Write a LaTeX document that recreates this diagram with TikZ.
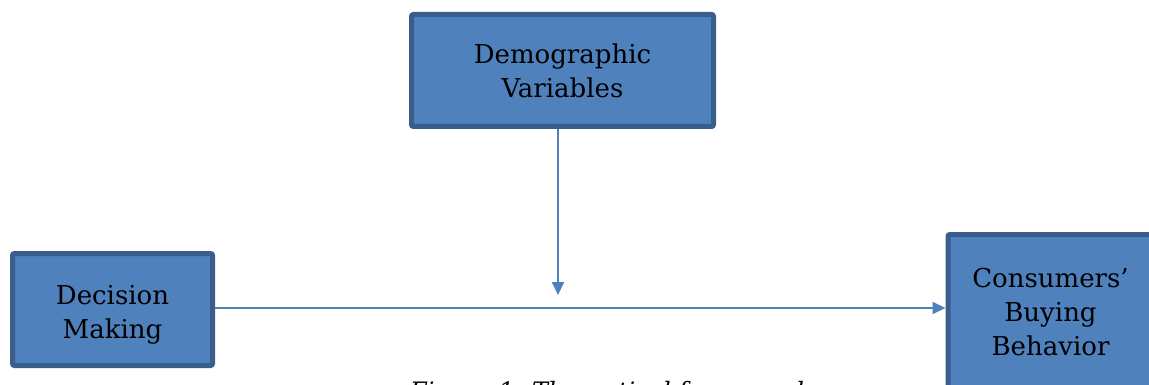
\documentclass[tikz,border=0pt]{standalone}
\usepackage{fontspec}
\setmainfont{DejaVu Serif}
\usetikzlibrary{arrows.meta}
\definecolor{boxfill}{HTML}{4F81BD}
\definecolor{boxline}{HTML}{3A5E8C}
\definecolor{arrowcol}{HTML}{4F81BD}
\tikzset{
  box/.style={draw=boxline, fill=boxfill, line width=5pt, rounded corners=2pt,
    align=center, inner sep=0pt, text=black,
    font=\fontsize{26pt}{34pt}\selectfont},
  conn/.style={draw=arrowcol, line width=2pt,
    -{Triangle[length=13pt,width=12pt]}},
  caption/.style={font=\fontsize{24pt}{28pt}\selectfont\itshape, inner sep=0pt}
}
\begin{document}
\begin{tikzpicture}[x=1pt,y=-1pt]
\useasboundingbox (0,0) rectangle (1149,385);
\clip (0,0) rectangle (1149,385);
\fill[white] (0,0) rectangle (1149,385);
\node[box, minimum width=302pt, minimum height=112pt] (demo) at (562.5,70.5) {Demographic\\Variables};
\node[box, minimum width=200pt, minimum height=112pt] (dec) at (112.5,309.5) {\rule{0pt}{29pt}Decision\\Making};
\node[box, minimum width=205pt, minimum height=155pt] (cons) at (1050.5,312) {Consumers’\\Buying\\Behavior};
\coordinate (mid) at (558,295);
\coordinate (hl) at (0,308);
\draw[conn] (demo.south -| mid) -- (mid);
\draw[conn] (dec.east |- hl) -- (cons.west |- hl);
\node[caption, anchor=base west] (cap) at (410,399) {Figure 1: Theoretical framework};
\end{tikzpicture}
\end{document}
